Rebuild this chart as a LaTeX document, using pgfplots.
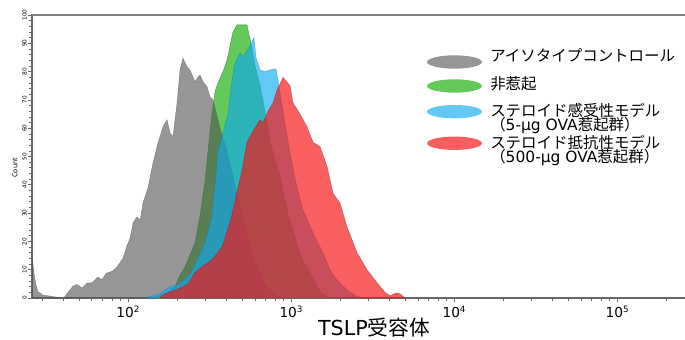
\documentclass[border=0pt]{standalone}
\usepackage{pgfplots}
\usepackage{pgfplotstable}
\pgfplotsset{compat=1.18}
\usepackage{fontspec}
\setmainfont{DejaVu Sans}
\newfontfamily\cjk{Noto Sans CJK JP}
\definecolor{cGray}{RGB}{80,80,80}
\definecolor{cGreen}{RGB}{100,200,90}
\definecolor{cCyan}{RGB}{13,169,239}
\definecolor{cRed}{RGB}{248,20,20}
\definecolor{lGray}{RGB}{150,150,150}
\definecolor{lCyan}{RGB}{100,200,245}
\definecolor{lRed}{RGB}{250,95,95}
\definecolor{spine}{RGB}{105,105,105}

% x = log10(TSLP receptor intensity), y = count
\pgfplotstableread{
L C
1.411 14
1.417 12
1.423 9
1.436 4.5
1.448 2.2
1.479 1
1.509 0.8
1.540 0.5
1.571 0.2
1.589 0
1.607 0
1.626 1.6
1.663 4.2
1.687 4.8
1.718 3.5
1.748 5.2
1.779 5.4
1.816 7.4
1.840 6.4
1.865 8.7
1.908 9.6
1.933 11
1.969 14
1.994 18.5
2.012 21
2.031 26.5
2.055 28.7
2.074 27.6
2.092 33.6
2.123 39
2.153 47.7
2.184 54.8
2.215 60.5
2.239 63
2.258 58.3
2.276 57
2.301 69
2.319 80.6
2.337 84.7
2.362 81.7
2.380 80.6
2.399 78
2.411 76.4
2.429 78
2.442 78.8
2.460 76.4
2.485 74.6
2.503 71
2.521 70
2.564 60
2.607 52
2.656 40
2.706 28
2.748 18
2.798 10
2.847 4
2.902 1
2.963 0
}\grayhist

\pgfplotstableread{
L C
2.166 0
2.196 1
2.245 2
2.288 4
2.319 8
2.350 11
2.368 13.5
2.411 19.5
2.442 29
2.472 41
2.491 52
2.515 65
2.534 73
2.552 76
2.583 80
2.607 84
2.626 89
2.644 94
2.669 96.5
2.730 96.5
2.740 93.6
2.755 90
2.779 82
2.810 75
2.840 66
2.871 55
2.933 43
2.975 31
3.037 19
3.074 13
3.135 7
3.178 2
3.239 0
}\greenhist

\pgfplotstableread{
L C
2.104 0
2.135 0.5
2.196 1.5
2.258 4
2.319 5
2.380 8.5
2.429 14
2.472 19.5
2.515 29
2.534 40
2.552 52
2.577 57
2.613 65
2.638 77
2.656 83
2.687 86.5
2.706 85.3
2.736 88
2.755 90
2.773 92
2.785 85
2.810 80.6
2.840 80
2.871 80.6
2.908 81
2.926 75
2.939 70
2.951 66
2.994 51
3.037 39
3.074 31
3.135 23
3.196 16
3.239 10
3.282 6.4
3.344 2.8
3.405 0.5
3.454 0
}\cyanhist

\pgfplotstableread{
L C
2.196 0
2.227 1.5
2.301 3
2.368 5
2.411 9
2.454 11
2.515 13.5
2.577 18
2.632 28
2.663 36
2.699 45
2.730 55
2.767 59
2.810 63
2.828 62
2.859 66
2.890 69
2.914 73.5
2.951 78
2.994 75
3.012 69
3.055 65
3.098 60.5
3.135 55
3.178 53.5
3.221 46.5
3.258 37
3.301 33.5
3.344 25
3.405 16
3.466 10
3.528 5.3
3.577 2
3.607 0.8
3.644 1.8
3.669 1.5
3.699 0
}\redhist

\newcommand{\decade}[1]{10\raisebox{0.36em}{\fontsize{6.6}{7}\selectfont #1}}

\begin{document}
\begin{tikzpicture}
\path[use as bounding box] (0,0) rectangle (513.75pt,254.25pt);
\begin{axis}[
  at={(24pt,30.75pt)}, anchor=south west,
  scale only axis, width=491.25pt, height=212.25pt,
  xmin=1.411, xmax=5.429, ymin=0, ymax=100,
  xtick={2,3,4,5},
  xticklabels={\decade{2},\decade{3},\decade{4},\decade{5}},
  minor xtick={1.477,1.602,1.699,1.778,1.845,1.903,1.954,
               2.301,2.477,2.602,2.699,2.778,2.845,2.903,2.954,
               3.301,3.477,3.602,3.699,3.778,3.845,3.903,3.954,
               4.301,4.477,4.602,4.699,4.778,4.845,4.903,4.954,
               5.301},
  ytick={0,10,...,100},
  minor y tick num=4,
  xtick pos=bottom, ytick pos=left,
  tick align=outside,
  major tick length=3.2pt, minor tick length=2.6pt,
  tick style={draw=spine, line width=0.5pt},
  axis line style={draw=spine, line width=0.8pt},
  /pgf/number format/assume math mode=true,
  xticklabel style={font=\fontsize{10.3}{12}\selectfont, inner sep=0pt, yshift=-2.5pt},
  yticklabel style={font=\fontsize{4.3}{5}\selectfont, rotate=90, anchor=south, inner sep=0.6pt},
  ylabel={Count},
  ylabel style={font=\fontsize{5}{6}\selectfont, at={(axis description cs:-0.026,0.46)}, anchor=center},
  xlabel={TSLP{\cjk 受容体}},
  xlabel style={font=\fontsize{15.5}{17}\selectfont, at={(axis description cs:0.522,0)}, anchor=base, yshift=-28.1pt, inner sep=0pt, text depth=0pt},
  extra description/.code={
    \draw[draw=lGray!85!black, line width=1.5pt] (rel axis cs:0,1) -- (rel axis cs:1,1);
  },
]
\addplot[fill=cGreen, draw=cGreen!75!black, line width=0.3pt] table[x=L,y=C] {\greenhist} \closedcycle;
\addplot[fill=cGray, fill opacity=0.6, draw=cGray, draw opacity=0.6, line width=0.3pt] table[x=L,y=C] {\grayhist} \closedcycle;
\addplot[fill=cCyan, fill opacity=0.64, draw=cCyan!70!black, draw opacity=0.5, line width=0.3pt] table[x=L,y=C] {\cyanhist} \closedcycle;
\addplot[fill=cRed, fill opacity=0.68, draw=cRed!60!black, draw opacity=0.5, line width=0.3pt] table[x=L,y=C] {\redhist} \closedcycle;
\end{axis}
% legend
\fill[lGray] (340.9pt,207.75pt) ellipse [x radius=20.6pt, y radius=5pt];
\fill[cGreen] (340.9pt,189.75pt) ellipse [x radius=20.6pt, y radius=5pt];
\fill[lCyan] (340.9pt,170.5pt) ellipse [x radius=20.6pt, y radius=5pt];
\fill[lRed] (340.9pt,146.8pt) ellipse [x radius=20.6pt, y radius=5pt];
\begin{scope}[every node/.style={anchor=base west, inner sep=0pt, text height=0.76em, text depth=0.04em, font=\fontsize{11.6}{14}\selectfont}]
\node at (367.5pt,207.8pt) {\cjk アイソタイプコントロール};
\node at (367.5pt,187.3pt) {\cjk 非惹起};
\node at (367.5pt,166.9pt) {\cjk ステロイド感受性モデル};
\node at (367.5pt,156.2pt) {{\cjk （}5-µg OVA{\cjk 惹起群）}};
\node at (367.5pt,142.8pt) {\cjk ステロイド抵抗性モデル};
\node at (367.5pt,132.1pt) {{\cjk （}500-µg OVA{\cjk 惹起群）}};
\end{scope}
\end{tikzpicture}
\end{document}
